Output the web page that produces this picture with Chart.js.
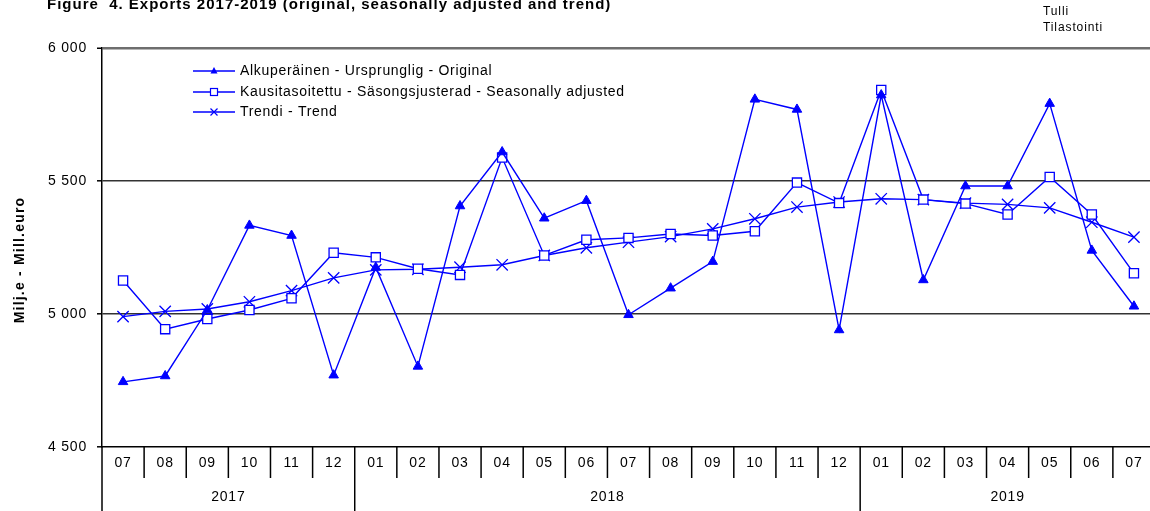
<!DOCTYPE html>
<html>
    <head>
        <title> Exports 2017-2019 </title>
        <script src = "https://cdn.jsdelivr.net/npm/chart.js"> </script>
        <style>
            body { margin: 0; overflow: hidden; background: #fff; }
        </style>
    </head>

    <body onload = "createChart()">

            <div>
                <canvas id="myChart" width="1155" height="511"></canvas>
            </div>

            <script>
                const months = ['07','08','09','10','11','12','01','02','03','04','05','06','07','08','09','10','11','12','01','02','03','04','05','06','07'];
                const yearLabels = ['2017', '2018', '2019'];
                const yearSpans = [6, 12, 7];

                const original = [4745, 4767, 5015, 5333, 5295, 4770, 5175, 4803, 5406, 5609, 5360, 5426, 4997, 5097, 5197, 5807, 5769, 4940, 5823, 5128, 5481, 5481, 5791, 5239, 5029];
                const adjusted = [5126, 4943, 4981, 5015, 5059, 5230, 5213, 5170, 5147, 5588, 5220, 5279, 5286, 5301, 5295, 5311, 5494, 5417, 5842, 5430, 5415, 5374, 5515, 5374, 5153];
                const trend = [4990, 5010, 5019, 5046, 5088, 5136, 5166, 5168, 5176, 5185, 5220, 5249, 5270, 5291, 5320, 5358, 5402, 5421, 5433, 5430, 5417, 5412, 5399, 5345, 5289];

                const seriesNames = [
                    'Alkuperäinen - Ursprunglig - Original',
                    'Kausitasoitettu - Säsongsjusterad - Seasonally adjusted',
                    'Trendi - Trend'
                ];
                const blue = '#0000ff';
                const font = 'Arial, "Liberation Sans", sans-serif';

                // wider letter spacing like the original picture
                const spacing = {
                    id: 'spacing',
                    beforeDraw(chart) { chart.ctx.letterSpacing = '0.8px'; }
                };

                // legend, year row, dividers and header texts
                const extras = {
                    id: 'extras',
                    afterDraw(chart) {
                        const ctx = chart.ctx;
                        const x = chart.scales.x;
                        const area = chart.chartArea;
                        ctx.save();

                        // month dividers and year separators
                        ctx.strokeStyle = '#000';
                        ctx.lineWidth = 1.5;
                        let start = 0;
                        const yearStarts = [];
                        yearSpans.forEach(s => { yearStarts.push(start); start += s; });
                        for (let i = 1; i < months.length; i++) {
                            const px = (x.getPixelForValue(i - 1) + x.getPixelForValue(i)) / 2;
                            const isYear = yearStarts.includes(i);
                            ctx.beginPath();
                            ctx.moveTo(px, area.bottom);
                            ctx.lineTo(px, isYear ? 511 : area.bottom + 31);
                            ctx.stroke();
                        }
                        // y axis continues down
                        ctx.beginPath();
                        ctx.moveTo(area.left, area.bottom);
                        ctx.lineTo(area.left, 511);
                        ctx.stroke();

                        // year labels
                        ctx.fillStyle = '#000';
                        ctx.letterSpacing = '0.8px';
                        ctx.font = '14px ' + font;
                        ctx.textAlign = 'center';
                        ctx.textBaseline = 'middle';
                        yearLabels.forEach((lab, k) => {
                            const a = yearStarts[k];
                            const b = a + yearSpans[k] - 1;
                            const left = a === 0 ? area.left : (x.getPixelForValue(a - 1) + x.getPixelForValue(a)) / 2;
                            const right = b === months.length - 1 ? area.right : (x.getPixelForValue(b) + x.getPixelForValue(b + 1)) / 2;
                            ctx.fillText(lab, (left + right) / 2, 497);
                        });

                        // header texts
                        ctx.textAlign = 'left';
                        ctx.textBaseline = 'alphabetic';
                        ctx.letterSpacing = '1px';
                        ctx.font = 'bold 15px ' + font;
                        ctx.fillText('Figure  4. Exports 2017-2019 (original, seasonally adjusted and trend)', 47, 9);
                        ctx.letterSpacing = '0.9px';
                        ctx.font = '12px ' + font;
                        ctx.fillText('Tulli', 1043, 15);
                        ctx.fillText('Tilastointi', 1043, 31);

                        // y title
                        ctx.save();
                        ctx.translate(20, 260);
                        ctx.rotate(-Math.PI / 2);
                        ctx.letterSpacing = '1.2px';
                        ctx.font = 'bold 14px ' + font;
                        ctx.textAlign = 'center';
                        ctx.textBaseline = 'middle';
                        ctx.fillText('Milj.e - Mill.euro', 0, 0);
                        ctx.restore();

                        // legend
                        const rows = [71, 92, 112];
                        ctx.letterSpacing = '0.7px';
                        ctx.font = '14px ' + font;
                        ctx.textBaseline = 'middle';
                        rows.forEach((ry, k) => {
                            ctx.strokeStyle = blue;
                            ctx.fillStyle = blue;
                            ctx.lineWidth = 1.5;
                            ctx.beginPath();
                            ctx.moveTo(193, ry);
                            ctx.lineTo(235, ry);
                            ctx.stroke();
                            const mx = 214;
                            ctx.lineWidth = 1.2;
                            if (k === 0) {
                                ctx.beginPath();
                                ctx.moveTo(mx, ry - 4);
                                ctx.lineTo(mx + 3.5, ry + 2.5);
                                ctx.lineTo(mx - 3.5, ry + 2.5);
                                ctx.closePath();
                                ctx.fill();
                            } else if (k === 1) {
                                ctx.fillStyle = '#fff';
                                ctx.fillRect(mx - 3.5, ry - 3.5, 7, 7);
                                ctx.strokeRect(mx - 3.5, ry - 3.5, 7, 7);
                            } else {
                                ctx.beginPath();
                                ctx.moveTo(mx - 3.5, ry - 3.5);
                                ctx.lineTo(mx + 3.5, ry + 3.5);
                                ctx.moveTo(mx + 3.5, ry - 3.5);
                                ctx.lineTo(mx - 3.5, ry + 3.5);
                                ctx.stroke();
                            }
                            ctx.fillStyle = '#000';
                            ctx.fillText(seriesNames[k], 240, ry);
                        });

                        ctx.restore();
                    }
                };

                function createChart() {
                    const ctx = document.getElementById('myChart');

                    new Chart(ctx, {
                        type: 'line',
                        data: {
                            labels: months,
                            datasets: [{
                                label: seriesNames[0],
                                data: original,
                                borderColor: blue,
                                backgroundColor: blue,
                                borderWidth: 1.4,
                                pointStyle: 'triangle',
                                pointRadius: 5.5,
                                pointBorderWidth: 1,
                                tension: 0
                            }, {
                                label: seriesNames[1],
                                data: adjusted,
                                borderColor: blue,
                                backgroundColor: '#fff',
                                borderWidth: 1.4,
                                pointStyle: 'rect',
                                pointRadius: 6.5,
                                pointBorderWidth: 1.3,
                                tension: 0
                            }, {
                                label: seriesNames[2],
                                data: trend,
                                borderColor: blue,
                                backgroundColor: blue,
                                borderWidth: 1.4,
                                pointStyle: 'crossRot',
                                pointRadius: 8,
                                pointBorderWidth: 1.3,
                                tension: 0
                            }]
                        },
                        options: {
                            responsive: false,
                            animation: false,
                            layout: { autoPadding: false, padding: { top: 48, right: 0, left: 0, bottom: 0 } },
                            plugins: {
                                legend: { display: false },
                                tooltip: { enabled: false }
                            },
                            scales: {
                                x: {
                                    offset: true,
                                    grid: { display: false, drawTicks: false },
                                    border: { display: true, color: '#000', width: 1.5 },
                                    ticks: {
                                        color: '#000',
                                        font: { family: font, size: 14 },
                                        padding: 8,
                                        maxRotation: 0,
                                        autoSkip: false
                                    },
                                    afterFit(scale) {
                                        scale.height = 64;
                                        scale.paddingLeft = 0;
                                        scale.paddingRight = 0;
                                    }
                                },
                                y: {
                                    min: 4500,
                                    max: 6000,
                                    ticks: {
                                        stepSize: 500,
                                        color: '#000',
                                        font: { family: font, size: 14 },
                                        padding: 10,
                                        callback: v => String(v).replace(/\B(?=(\d{3})+$)/g, ' ')
                                    },
                                    grid: {
                                        color: c => c.tick && c.tick.value === 6000 ? '#6e6e6e' : (c.tick && c.tick.value === 4500 ? 'rgba(0,0,0,0)' : '#333'),
                                        lineWidth: c => c.tick && c.tick.value === 6000 ? 2.5 : 1.6,
                                        tickColor: '#000',
                                        tickLength: 5,
                                        tickWidth: 1.5
                                    },
                                    border: { display: true, color: '#000', width: 1.5 },
                                    afterFit(scale) { scale.width = 102; }
                                }
                            }
                        },
                        plugins: [spacing, extras]
                    });
                }
            </script>

    </body>
</html>
